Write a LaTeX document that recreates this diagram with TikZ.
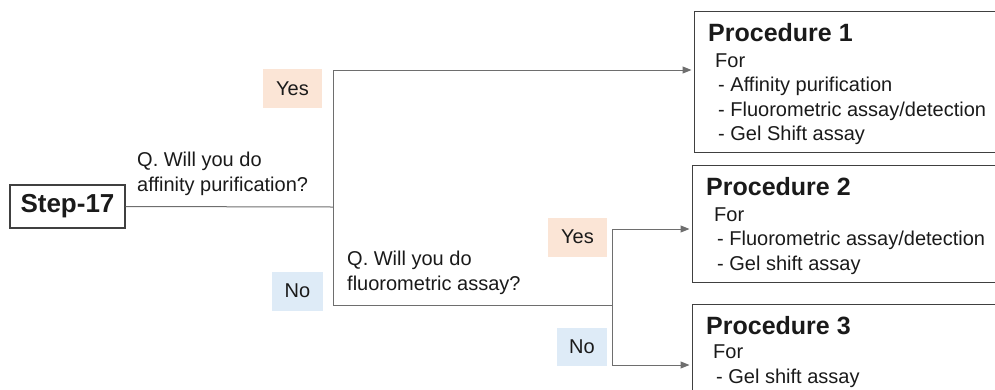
\documentclass[tikz,border=0pt]{standalone}
\usepackage{fontspec}
\setmainfont{Liberation Sans}
\usetikzlibrary{arrows.meta}
\definecolor{yesfill}{HTML}{FBE5D6}
\definecolor{nofill}{HTML}{DEEBF7}
\definecolor{boxline}{HTML}{404040}
\definecolor{conn}{HTML}{6E6E6E}
\definecolor{txt}{HTML}{1A1A1A}
\begin{document}
\begin{tikzpicture}[x=1pt,y=-1pt,
  procbox/.style={draw=boxline, line width=1.3pt, anchor=north west, inner sep=0pt},
  stepbox/.style={draw=boxline, line width=1.3pt, inner sep=0pt, text=txt,
    minimum width=115pt, minimum height=43pt, font=\fontsize{26}{30}\selectfont\bfseries},
  title/.style={anchor=base west, inner sep=0pt, text=txt, font=\fontsize{25}{30}\selectfont\bfseries},
  body/.style={anchor=base west, inner sep=0pt, text=txt, align=left, font=\fontsize{20}{24.5}\selectfont},
  question/.style={anchor=base west, inner sep=0pt, text=txt, align=left, font=\fontsize{20}{25}\selectfont},
  yeslab/.style={fill=yesfill, inner sep=0pt, text=txt, minimum width=59pt, minimum height=39pt, font=\fontsize{20}{24}\selectfont},
  nolab/.style={fill=nofill, inner sep=0pt, text=txt, minimum width=51pt, minimum height=39pt, font=\fontsize{20}{24}\selectfont},
  conn/.style={draw=conn, line width=1pt},
  arr/.style={conn, -{Triangle[length=9pt,width=7pt]}, shorten >=2.5pt}
]
\useasboundingbox (0,0) rectangle (995,389);
\clip (0,0) rectangle (995,389);

% procedure boxes
\node[procbox, minimum width=310pt, minimum height=141pt] (p1) at (694,11) {};
\node[procbox, minimum width=310pt, minimum height=117pt] (p2) at (692,165) {};
\node[procbox, minimum width=310pt, minimum height=110pt] (p3) at (692,304) {};

\node[title] (p1t) at (708,41) {Procedure 1};
\node[body] (p1b) at (715,140.5) {For\\\hspace{3pt}- Affinity purification\\\hspace{3pt}- Fluorometric assay/detection\\\hspace{3pt}- Gel Shift assay};
\node[title] (p2t) at (706,195) {Procedure 2};
\node[body] (p2b) at (714,270) {For\\\hspace{3pt}- Fluorometric assay/detection\\\hspace{3pt}- Gel shift assay};
\node[title] (p3t) at (706,334) {Procedure 3};
\node[body] (p3b) at (713,383) {For\\\hspace{3pt}- Gel shift assay};

% step
\node[stepbox] (step) at (67.5,206.5) {Step-17};

% questions
\node[question] (q1) at (137,191) {Q. Will you do\\affinity purification?};
\node[question] (q2) at (347,290) {Q. Will you do\\fluorometric assay?};

% labels
\node[yeslab] (y1) at (292.5,88.5) {Yes};
\node[nolab] (n1) at (297.5,291) {No};
\node[yeslab] (y2) at (577.5,237) {Yes};
\node[nolab, minimum width=50pt, minimum height=38pt] (n2) at (582,347) {No};

% junction coordinates
\coordinate (j1) at (333,207);
\coordinate (j1t) at (333,70);
\coordinate (j1b) at (333,305);
\coordinate (j2) at (612,305);
\coordinate (j2t) at (612,229);
\coordinate (j2b) at (612,365);

\draw[conn] (step.east) -- (j1);
\draw[conn] (j1t) -- (j1b) -- (j2);
\draw[conn] (j2t) -- (j2b);
\draw[arr] (j1t) -- (p1.west |- j1t);
\draw[arr] (j2t) -- (p2.west |- j2t);
\draw[arr] (j2b) -- (p3.west |- j2b);
\end{tikzpicture}
\end{document}
